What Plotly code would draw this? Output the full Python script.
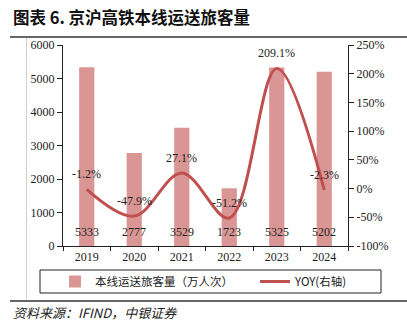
import plotly.graph_objects as go

years = ["2019", "2020", "2021", "2022", "2023", "2024"]
passengers = [5333, 2777, 3529, 1723, 5325, 5202]
yoy = [-1.2, -47.9, 27.1, -51.2, 209.1, -2.3]
yoy_labels = ["-1.2%", "-47.9%", "27.1%", "-51.2%", "209.1%", "-2.3%"]
left_ticks = [0, 1000, 2000, 3000, 4000, 5000, 6000]
right_ticks = [-100, -50, 0, 50, 100, 150, 200, 250]
right_tick_text = ["-100%", "-50%", "0%", "50%", "100%", "150%", "200%", "250%"]

BAR_COLOR = "#D99694"
LINE_COLOR = "#C0504D"
SERIF = "Liberation Serif, Times New Roman, serif"
CJK = "Noto Sans CJK SC, sans-serif"

W, H = 407, 334
L, R, T, B = 63, 59, 45, 88
PW, PH = W - L - R, H - T - B


def px(x):
    return (x - L) / PW


def py(y):
    return (H - B - y) / PH


fig = go.Figure()
fig.add_trace(go.Bar(
    x=years, y=passengers, name="本线运送旅客量（万人次）",
    marker=dict(color=BAR_COLOR, line=dict(width=0)), width=0.32,
    yaxis="y", legend="legend",
))
fig.add_trace(go.Scatter(
    x=years, y=yoy, name="YOY(右轴)", mode="lines",
    line=dict(color=LINE_COLOR, width=3, shape="spline", smoothing=1.0),
    yaxis="y2", legend="legend2",
))

annotations = []
for i, v in enumerate(passengers):
    annotations.append(dict(x=i, y=0, xref="x", yref="y", text=str(v),
                            showarrow=False, yanchor="bottom", yshift=5,
                            font=dict(family=SERIF, size=12, color="#222")))
for i, (v, t) in enumerate(zip(yoy, yoy_labels)):
    annotations.append(dict(x=i, y=v, xref="x", yref="y2", text=t,
                            showarrow=False, yanchor="middle", yshift=15,
                            font=dict(family=SERIF, size=12, color="#222")))

annotations.append(dict(x=px(11), y=py(17), xref="paper", yref="paper",
                        text="<b>图表 6. 京沪高铁本线运送旅客量</b>", showarrow=False,
                        xanchor="left", yanchor="middle",
                        font=dict(family=CJK, size=16.5, color="#111")))
annotations.append(dict(x=px(11), y=py(312), xref="paper", yref="paper",
                        text="<i>资料来源：IFIND，中银证券</i>", showarrow=False,
                        xanchor="left", yanchor="middle",
                        font=dict(family=CJK, size=13, color="#222")))

shapes = [
    dict(type="line", xref="paper", yref="paper", x0=px(10), x1=px(407),
         y0=py(37), y1=py(37), line=dict(color="#333", width=1.5)),
    dict(type="line", xref="paper", yref="paper", x0=px(10), x1=px(407),
         y0=py(301), y1=py(301), line=dict(color="#333", width=1.5)),
    dict(type="line", xref="paper", yref="paper", x0=px(26.5), x1=px(26.5),
         y0=py(38), y1=py(299), line=dict(color="#D0D0D0", width=1)),
    dict(type="rect", xref="paper", yref="paper", x0=px(40), x1=px(381),
         y0=py(293), y1=py(270), line=dict(color="#222", width=1)),
]

legend_common = dict(orientation="h", xanchor="left", y=py(281.5),
                     yanchor="middle",
                     font=dict(family=CJK, size=11.5, color="#222"),
                     bgcolor="rgba(0,0,0,0)", borderwidth=0, itemwidth=30)

fig.update_layout(
    width=W, height=H, margin=dict(l=L, r=R, t=T, b=B),
    paper_bgcolor="white", plot_bgcolor="white",
    showlegend=True,
    legend=dict(x=px(55), **legend_common),
    legend2=dict(x=px(255), **legend_common),
    xaxis=dict(type="category", range=[-0.5, 5.5], autorange=False,
               showline=True, linecolor="#222", linewidth=1,
               ticks="outside", ticklen=4, tickcolor="#222", tickson="boundaries",
               tickangle=0,
               tickfont=dict(family=SERIF, size=12, color="#222"),
               showgrid=False, zeroline=False),
    yaxis=dict(range=[0, 6000], tickvals=left_ticks, showline=True,
               linecolor="#222", linewidth=1, ticks="outside", ticklen=5,
               tickcolor="#222", tickfont=dict(family=SERIF, size=12, color="#222"),
               showgrid=False, zeroline=False),
    yaxis2=dict(range=[-100, 250], tickvals=right_ticks, ticktext=right_tick_text,
                overlaying="y", side="right", showline=True, linecolor="#222",
                linewidth=1, ticks="outside", ticklen=5, tickcolor="#222",
                tickfont=dict(family=SERIF, size=12, color="#222"),
                showgrid=False, zeroline=False),
    annotations=annotations, shapes=shapes,
)

fig.write_html("out.html")
